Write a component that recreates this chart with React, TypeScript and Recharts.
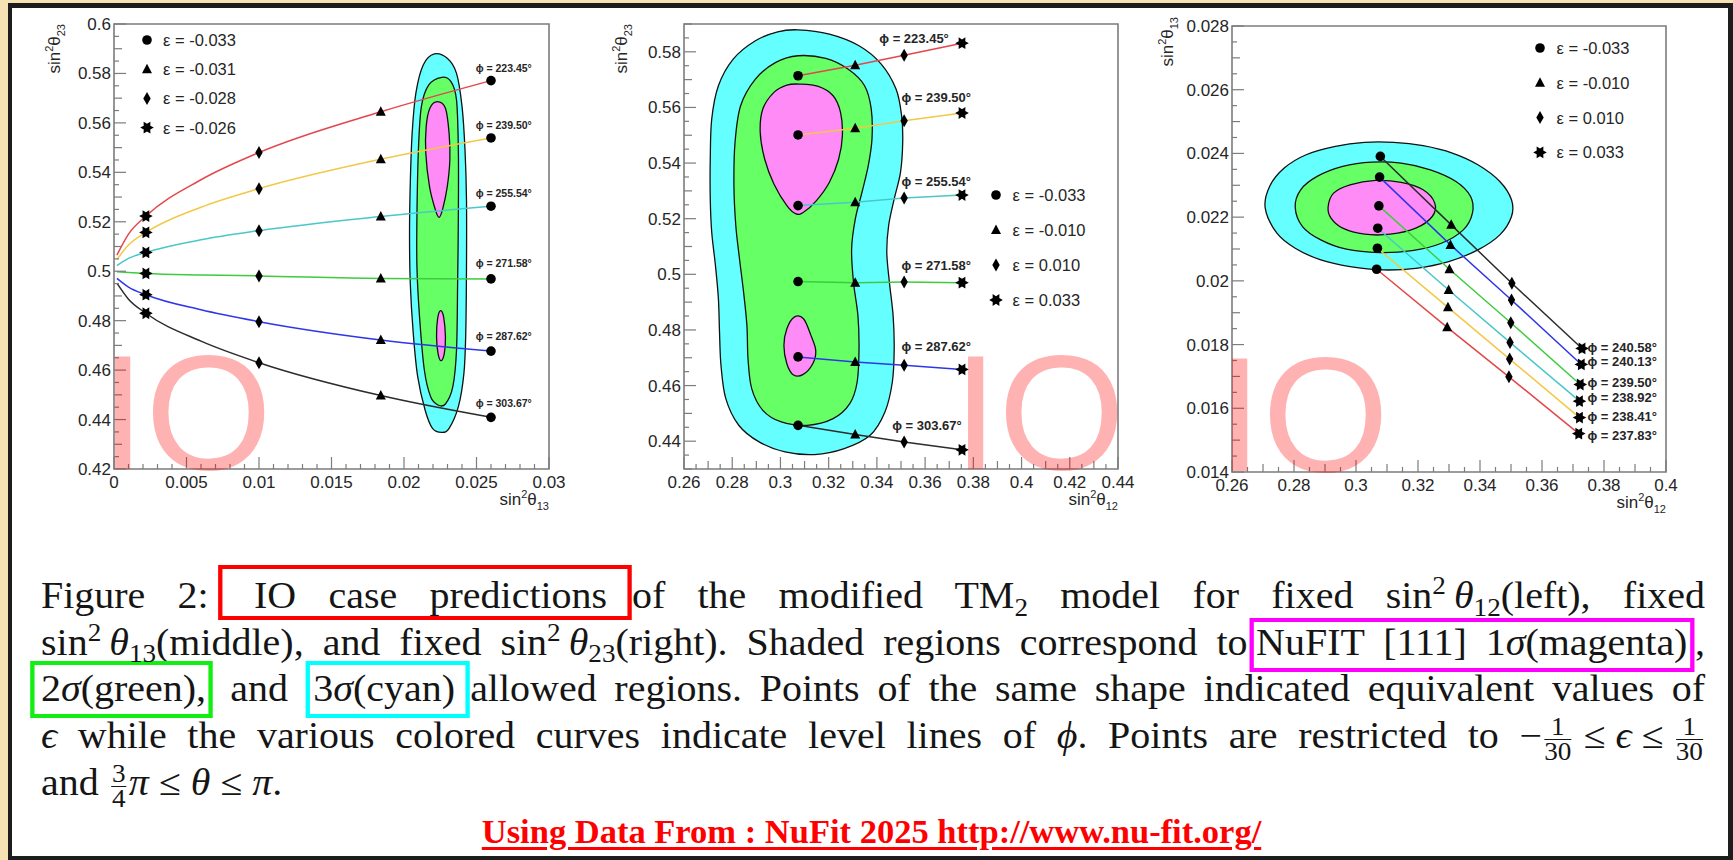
import React from "react";
import { ScatterChart, Scatter, XAxis, YAxis, ReferenceArea, Legend, Curve } from "recharts";

type Pt = [number, number];
type Kind = "circle" | "triangle" | "diamond" | "star";

const AXIS = "#7c7c7c";
const INK = "#262626";
const SANS = '"Liberation Sans", Arial, Helvetica, sans-serif';
const SERIF = '"Liberation Serif", "Times New Roman", serif';

// colours of the phi level lines and of the NuFIT regions
const RED = "#e3474b";
const YELLOW = "#f2c846";
const CYAN = "#4ac7c9";
const GREEN = "#3fcb3f";
const BLUE = "#2f36e8";
const BLACK = "#2c2c2c";
const CYAN_FILL = "#66ffff";
const GREEN_FILL = "#66ff66";
const MAGENTA_FILL = "#ff8cf6";

const markerKinds: Kind[] = ["circle", "triangle", "diamond", "star"];

// ---------------- left panel: fixed sin^2 theta12 ----------------
const leftPhi = ["223.45", "239.50", "255.54", "271.58", "287.62", "303.67"];
const leftEps = ["-0.033", "-0.031", "-0.028", "-0.026"];
const leftX = [0.0002, 0.001, 0.0022, 0.006, 0.01, 0.0184, 0.026];
const leftRed = [0.5065, 0.515, 0.5223, 0.537, 0.548, 0.5645, 0.5771];
const leftYellow = [0.5047, 0.5106, 0.5157, 0.5259, 0.5334, 0.5453, 0.5539];
const leftCyan = [0.5023, 0.5052, 0.5076, 0.5127, 0.5164, 0.5221, 0.5263];
const leftGreen = [0.4998, 0.4995, 0.4991, 0.4985, 0.4981, 0.4971, 0.4969];
const leftBlue = [0.4971, 0.4936, 0.4905, 0.4844, 0.4796, 0.4722, 0.4677];
const leftBlack = [0.4952, 0.4887, 0.483, 0.4717, 0.463, 0.4497, 0.4409];
const leftLabelX = 0.02494;
const leftLabelY = [0.58046, 0.55752, 0.5299, 0.50158, 0.47217, 0.44494];
const leftXMajor = [0, 0.005, 0.01, 0.015, 0.02, 0.025, 0.03];
const leftYMajor = [0.42, 0.44, 0.46, 0.48, 0.5, 0.52, 0.54, 0.56, 0.58, 0.6];

const leftCyanRegion: Pt[] = [
  [0.022091, 0.58787], [0.022984, 0.58611], [0.023622, 0.58004], [0.024004, 0.56656], [0.024208, 0.54903],
  [0.02431, 0.5288], [0.02431, 0.50184], [0.024259, 0.47487], [0.024132, 0.45869], [0.023749, 0.4452],
  [0.023111, 0.43644], [0.022602, 0.43482], [0.021964, 0.43644], [0.021454, 0.44386], [0.020944, 0.45734],
  [0.020638, 0.47487], [0.020433, 0.49509], [0.020382, 0.51532], [0.020433, 0.53555], [0.020561, 0.55577],
  [0.020816, 0.57195], [0.021326, 0.58342],
];
const leftGreenRegion: Pt[] = [
  [0.022602, 0.57843], [0.02324, 0.57667], [0.023622, 0.56926], [0.023749, 0.54903], [0.023749, 0.52206],
  [0.023698, 0.49509], [0.023622, 0.46813], [0.023367, 0.45329], [0.022857, 0.44628], [0.022347, 0.44588],
  [0.021837, 0.44925], [0.021403, 0.46004], [0.021071, 0.48161], [0.020892, 0.50184], [0.020892, 0.52206],
  [0.020994, 0.54903], [0.021198, 0.56656], [0.021709, 0.57533],
];
const leftMagentaTop: Pt[] = [
  [0.022296, 0.56858], [0.022857, 0.56589], [0.023111, 0.55577], [0.023162, 0.54498], [0.022984, 0.5342],
  [0.022678, 0.52544], [0.022423, 0.52179], [0.022168, 0.52476], [0.02176, 0.5342], [0.021505, 0.54768],
  [0.02153, 0.55847], [0.021785, 0.56589],
];
const leftMagentaLow: Pt[] = [
  [0.022525, 0.48404], [0.022729, 0.48161], [0.022857, 0.47352], [0.02278, 0.46678], [0.022551, 0.46381],
  [0.022347, 0.46678], [0.022245, 0.47352], [0.022321, 0.48093],
];

// ---------------- middle panel: fixed sin^2 theta13 ----------------
const midPhi = ["223.45", "239.50", "255.54", "271.58", "287.62", "303.67"];
const midEps = ["-0.033", "-0.010", "0.010", "0.033"];
const midX = [0.3073, 0.331, 0.3513, 0.3753];
const midRed = [0.5714, 0.5752, 0.5788, 0.5831];
const midYellow = [0.5501, 0.5525, 0.5552, 0.558];
const midCyan = [0.5247, 0.5259, 0.5274, 0.5285];
const midGreen = [0.4974, 0.497, 0.4972, 0.497];
const midBlue = [0.4703, 0.4685, 0.4673, 0.4658];
const midBlack = [0.4457, 0.4424, 0.4397, 0.4369];
const midLabelX = [0.341, 0.35021, 0.35021, 0.35021, 0.35021, 0.34635];
const midLabelY = [0.58299, 0.56188, 0.53168, 0.50173, 0.47235, 0.4442];
const midXMajor = [0.26, 0.28, 0.3, 0.32, 0.34, 0.36, 0.38, 0.4, 0.42, 0.44];
const midYMajor = [0.44, 0.46, 0.48, 0.5, 0.52, 0.54, 0.56, 0.58];

const midCyanRegion: Pt[] = [
  [0.30727, 0.58791], [0.32031, 0.58636], [0.33259, 0.58217], [0.3418, 0.57558], [0.34794, 0.56661],
  [0.35025, 0.55703], [0.35071, 0.54746], [0.34979, 0.53668], [0.34718, 0.52711], [0.34487, 0.51753],
  [0.34411, 0.50796], [0.34518, 0.49719], [0.34672, 0.48522], [0.34718, 0.47325], [0.34641, 0.46128],
  [0.34334, 0.45051], [0.3372, 0.44213], [0.32646, 0.43734], [0.31418, 0.43519], [0.3019, 0.43615],
  [0.29115, 0.43974], [0.28271, 0.44573], [0.27734, 0.4553], [0.27534, 0.46727], [0.27473, 0.47924],
  [0.27427, 0.4912], [0.27304, 0.50317], [0.2715, 0.51514], [0.27089, 0.52711], [0.27089, 0.54148],
  [0.2715, 0.55584], [0.27427, 0.56781], [0.28041, 0.57738], [0.28962, 0.58396], [0.29883, 0.58719],
];
const midGreenRegion: Pt[] = [
  [0.30727, 0.57858], [0.31878, 0.57762], [0.32799, 0.57379], [0.33489, 0.56781], [0.33766, 0.55942],
  [0.33797, 0.54866], [0.33643, 0.53908], [0.33382, 0.5295], [0.33106, 0.51992], [0.32952, 0.50916],
  [0.33029, 0.49719], [0.33213, 0.48522], [0.33259, 0.47325], [0.33182, 0.46128], [0.32876, 0.4535],
  [0.32185, 0.44811], [0.31111, 0.44572], [0.30036, 0.44691], [0.29269, 0.4511], [0.28808, 0.45888],
  [0.28655, 0.46966], [0.28609, 0.48163], [0.28471, 0.4936], [0.28302, 0.50557], [0.28148, 0.51753],
  [0.28071, 0.5319], [0.28117, 0.54746], [0.28348, 0.56062], [0.28962, 0.5702], [0.29806, 0.57618],
];
const midMagentaTop: Pt[] = [
  [0.30804, 0.5684], [0.31571, 0.56757], [0.32185, 0.56421], [0.32492, 0.55823], [0.32569, 0.54985],
  [0.32415, 0.54147], [0.32031, 0.5331], [0.31494, 0.52651], [0.30957, 0.52232], [0.3065, 0.52172],
  [0.30266, 0.52472], [0.29729, 0.5325], [0.29345, 0.54147], [0.29161, 0.55105], [0.29269, 0.55942],
  [0.29729, 0.56541], [0.30266, 0.56804],
];
const midMagentaLow: Pt[] = [
  [0.30573, 0.48462], [0.30957, 0.48402], [0.31264, 0.47804], [0.31464, 0.47265], [0.31341, 0.46786],
  [0.30926, 0.46391], [0.30527, 0.46391], [0.30266, 0.46786], [0.30144, 0.47444], [0.30266, 0.48043],
];

// ---------------- right panel: fixed sin^2 theta23 ----------------
const rightPhi = ["240.58", "240.13", "239.50", "238.92", "238.41", "237.83"];
const rightEps = ["-0.033", "-0.010", "0.010", "0.033"];
const rightBlackX = [0.30785, 0.33072, 0.35028, 0.37291];
const rightBlackY = [0.023906, 0.021758, 0.019923, 0.017879];
const rightBlueX = [0.30761, 0.33048, 0.35016, 0.37268];
const rightBlueY = [0.023257, 0.021129, 0.019399, 0.017376];
const rightGreenX = [0.30738, 0.33013, 0.34993, 0.37233];
const rightGreenY = [0.022355, 0.020364, 0.018686, 0.016747];
const rightCyanX = [0.30702, 0.32989, 0.34969, 0.37209];
const rightCyanY = [0.021653, 0.019714, 0.018068, 0.016223];
const rightYellowX = [0.30691, 0.32966, 0.34957, 0.37209];
const rightYellowY = [0.021024, 0.019169, 0.017544, 0.015709];
const rightRedX = [0.30667, 0.32942, 0.34934, 0.37186];
const rightRedY = [0.020364, 0.01854, 0.016988, 0.015206];
const rightLabelX = 0.37468;
const rightLabelY = [0.017773, 0.017321, 0.016675, 0.016191, 0.015595, 0.01502];
const rightXMajor = [0.26, 0.28, 0.3, 0.32, 0.34, 0.36, 0.38, 0.4];
const rightYMajor = [0.014, 0.016, 0.018, 0.02, 0.022, 0.024, 0.026, 0.028];

const rightCyanRegion: Pt[] = [
  [0.27072, 0.022282], [0.27213, 0.022963], [0.27685, 0.02354], [0.28392, 0.023959], [0.29335, 0.024221],
  [0.30278, 0.024347], [0.31221, 0.024347], [0.32164, 0.024242], [0.33107, 0.024011], [0.33932, 0.023644],
  [0.34639, 0.02312], [0.35016, 0.022544], [0.35016, 0.02202], [0.34639, 0.021443], [0.33932, 0.020972],
  [0.32989, 0.020605], [0.31928, 0.020395], [0.30868, 0.020343], [0.29807, 0.020447], [0.28864, 0.020657],
  [0.28039, 0.021024], [0.27449, 0.021496],
];
const rightGreenRegion: Pt[] = [
  [0.28039, 0.022313], [0.28215, 0.022858], [0.28746, 0.023278], [0.29571, 0.023592], [0.30514, 0.023728],
  [0.31457, 0.023697], [0.324, 0.023487], [0.33225, 0.02312], [0.33697, 0.022649], [0.33756, 0.022124],
  [0.33461, 0.0216], [0.32754, 0.021181], [0.31811, 0.020951], [0.3075, 0.020888], [0.29689, 0.020993],
  [0.28864, 0.021286], [0.28274, 0.021705],
];
const rightMagentaRegion: Pt[] = [
  [0.291, 0.022313], [0.29276, 0.022753], [0.29807, 0.023015], [0.30632, 0.023152], [0.31457, 0.023089],
  [0.32164, 0.022858], [0.32541, 0.022439], [0.32459, 0.02202], [0.31928, 0.021653], [0.31103, 0.021464],
  [0.30278, 0.021464], [0.29571, 0.021653], [0.29194, 0.021967],
];

// ---------------- helpers ----------------
const zip = (xs: number[], ys: number[]): Pt[] => xs.map((x, i) => [x, ys[i]]);
const toData = (pts: Pt[]) => pts.map(([x, y]) => ({ x, y }));

// tick positions for the ROOT-style minor ticks
function steps(lo: number, hi: number, step: number) {
  const out: number[] = [];
  const n = Math.round((hi - lo) / step);
  for (let i = 0; i <= n; i++) out.push(+(lo + i * step).toFixed(7));
  return out;
}
function onStep(v: number, step?: number) {
  if (!step) return false;
  const r = v / step;
  return Math.abs(r - Math.round(r)) < 1e-4;
}

function starPath(cx: number, cy: number, R: number, r: number) {
  let d = "";
  for (let k = 0; k < 12; k++) {
    const a = (Math.PI / 6) * k;
    const rad = k % 2 === 0 ? R : r;
    d += (k ? "L" : "M") + (cx + rad * Math.cos(a)).toFixed(2) + "," + (cy + rad * Math.sin(a)).toFixed(2);
  }
  return d + "Z";
}

function Marker({ kind, cx, cy }: { kind: Kind; cx: number; cy: number }) {
  if (kind === "circle") return <circle cx={cx} cy={cy} r={4.8} fill="#000" />;
  if (kind === "triangle")
    return <path d={`M${cx},${cy - 5.5}L${cx + 5},${cy + 4}L${cx - 5},${cy + 4}Z`} fill="#000" />;
  if (kind === "diamond")
    return <path d={`M${cx},${cy - 6.5}L${cx + 3.7},${cy}L${cx},${cy + 6.5}L${cx - 3.7},${cy}Z`} fill="#000" />;
  return <path d={starPath(cx, cy, 6.8, 3.8)} fill="#000" />;
}

// smooth closed outline through the contour points (pixel points come from the chart scales)
function closedSmooth(pts: { x: number; y: number }[]) {
  const n = pts.length;
  if (!n) return "";
  let d = `M${pts[0].x},${pts[0].y}`;
  for (let i = 0; i < n; i++) {
    const p0 = pts[(i - 1 + n) % n];
    const p1 = pts[i];
    const p2 = pts[(i + 1) % n];
    const p3 = pts[(i + 2) % n];
    const c1x = p1.x + (p2.x - p0.x) / 6;
    const c1y = p1.y + (p2.y - p0.y) / 6;
    const c2x = p2.x - (p3.x - p1.x) / 6;
    const c2y = p2.y - (p3.y - p1.y) / 6;
    d += `C${c1x},${c1y} ${c2x},${c2y} ${p2.x},${p2.y}`;
  }
  return d + "Z";
}

function xTick(major: number[], mid?: number) {
  return (p: any) => {
    const v = Number(p.payload.value);
    const m = major.find((t) => Math.abs(t - v) < 1e-9);
    const len = m !== undefined ? 12 : onStep(v, mid) ? 8 : 5;
    return (
      <g>
        <line x1={p.x} x2={p.x} y1={p.y} y2={p.y - len} stroke={AXIS} strokeWidth={1.2} />
        {m !== undefined && (
          <text x={p.x} y={p.y + 19} textAnchor="middle" fontSize={17} fill={INK}>
            {String(m)}
          </text>
        )}
      </g>
    );
  };
}

function yTick(major: number[], mid?: number) {
  return (p: any) => {
    const v = Number(p.payload.value);
    const m = major.find((t) => Math.abs(t - v) < 1e-9);
    const len = m !== undefined ? 12 : onStep(v, mid) ? 8 : 5;
    return (
      <g>
        <line x1={p.x} x2={p.x + len} y1={p.y} y2={p.y} stroke={AXIS} strokeWidth={1.2} />
        {m !== undefined && (
          <text x={p.x - 3} y={p.y + 6} textAnchor="end" fontSize={17} fill={INK}>
            {String(m)}
          </text>
        )}
      </g>
    );
  };
}

function SinTitle({ sub }: { sub: string }) {
  return (
    <>
      sin
      <tspan fontSize={11} dy={-7}>2</tspan>
      <tspan dy={7}>θ</tspan>
      <tspan fontSize={11} dy={5}>{sub}</tspan>
    </>
  );
}

const xTitle = (sub: string) => (props: any) => {
  const vb = props.viewBox || {};
  return (
    <text x={vb.x + vb.width} y={vb.y + 36} textAnchor="end" fontSize={17} fill={INK}>
      <SinTitle sub={sub} />
    </text>
  );
};

const yTitle = (sub: string, dx: number, dy: number) => (props: any) => {
  const vb = props.viewBox || {};
  const x = vb.x + vb.width + dx;
  const y = vb.y + dy;
  return (
    <text x={x} y={y} transform={`rotate(-90 ${x} ${y})`} textAnchor="end" fontSize={17} fill={INK}>
      <SinTitle sub={sub} />
    </text>
  );
};

function LegendBox({ eps, gap, textDx }: { eps: string[]; gap: number; textDx: number }) {
  return (
    <svg width={150} height={gap * 3 + 24} style={{ display: "block", fontFamily: SANS }}>
      {markerKinds.map((k, i) => (
        <g key={k}>
          <Marker kind={k} cx={9} cy={10 + i * gap} />
          <text x={9 + textDx} y={10 + i * gap + 6} fontSize={16.5} fill={INK}>
            ε = {eps[i]}
          </text>
        </g>
      ))}
    </svg>
  );
}

interface Series {
  pts: Pt[];
  color: string;
}
interface PanelSpec {
  box: { left: number; top: number; width: number; height: number };
  margin: { top: number; right: number; bottom: number; left: number };
  xDomain: [number, number];
  yDomain: [number, number];
  xTicks: number[];
  xMajor: number[];
  xMid?: number;
  yTicks: number[];
  yMajor: number[];
  yMid?: number;
  xSub: string;
  ySub: string;
  yTitleDx: number;
  yTitleDy: number;
  contours: Series[];
  curves: Series[];
  smooth: boolean;
  markers: { kind: Kind; pts: Pt[] }[];
  labels: { pt: Pt; text: string }[];
  labelSize: number;
  legendEps: string[];
  legendLeft: number;
  legendTop: number;
  legendGap: number;
  legendTextDx: number;
}

const hidden = () => <g />;
const X_AXIS_H = 40;
const Y_AXIS_W = 60;

function Panel({ s }: { s: PanelSpec }) {
  return (
    <div style={{ position: "absolute", left: s.box.left, top: s.box.top, width: s.box.width, height: s.box.height }}>
      <ScatterChart width={s.box.width} height={s.box.height} margin={s.margin} style={{ fontFamily: SANS }}>
        <XAxis
          type="number"
          dataKey="x"
          domain={s.xDomain}
          allowDataOverflow
          ticks={s.xTicks}
          interval={0}
          height={X_AXIS_H}
          tickSize={0}
          tickMargin={0}
          axisLine={false}
          tickLine={false}
          tick={xTick(s.xMajor, s.xMid)}
          label={xTitle(s.xSub)}
        />
        <YAxis
          type="number"
          dataKey="y"
          domain={s.yDomain}
          allowDataOverflow
          ticks={s.yTicks}
          interval={0}
          width={Y_AXIS_W}
          tickSize={0}
          tickMargin={0}
          axisLine={false}
          tickLine={false}
          tick={yTick(s.yMajor, s.yMid)}
          label={yTitle(s.ySub, s.yTitleDx, s.yTitleDy)}
        />
        <ReferenceArea
          x1={s.xDomain[0]}
          x2={s.xDomain[1]}
          y1={s.yDomain[0]}
          y2={s.yDomain[1]}
          fill="none"
          stroke={AXIS}
          strokeWidth={1.6}
          ifOverflow="visible"
        />
        {s.contours.map((c, i) => (
          <Scatter
            key={`reg${i}`}
            data={toData(c.pts)}
            isAnimationActive={false}
            shape={hidden}
            legendType="none"
            line={(lp: any) => <path d={closedSmooth(lp.points || [])} fill={c.color} stroke="#111" strokeWidth={1.3} />}
          />
        ))}
        {s.curves.map((c, i) => (
          <Scatter
            key={`cur${i}`}
            data={toData(c.pts)}
            isAnimationActive={false}
            shape={hidden}
            legendType="none"
            line={(lp: any) => (
              <Curve points={lp.points} type={s.smooth ? "monotoneX" : "linear"} stroke={c.color} strokeWidth={1.5} fill="none" />
            )}
          />
        ))}
        {s.markers.map((m) => (
          <Scatter
            key={m.kind}
            data={toData(m.pts)}
            isAnimationActive={false}
            legendType="none"
            shape={(p: any) => <Marker kind={m.kind} cx={p.cx} cy={p.cy} />}
          />
        ))}
        <Scatter
          data={s.labels.map((l) => ({ x: l.pt[0], y: l.pt[1], text: l.text }))}
          isAnimationActive={false}
          legendType="none"
          shape={(p: any) => (
            <text x={p.cx} y={p.cy} fontSize={s.labelSize} fontWeight="bold" fill={INK}>
              {`ϕ = ${(p.payload && p.payload.text) || p.text}°`}
            </text>
          )}
        />
        <Legend
          layout="vertical"
          align="center"
          verticalAlign="middle"
          wrapperStyle={{ left: s.legendLeft, top: s.legendTop, width: 150, height: s.legendGap * 3 + 24 }}
          content={() => <LegendBox eps={s.legendEps} gap={s.legendGap} textDx={s.legendTextDx} />}
        />
      </ScatterChart>
    </div>
  );
}

// ---------------- panel specs ----------------
const leftCurves = [leftRed, leftYellow, leftCyan, leftGreen, leftBlue, leftBlack];
const lineColours = [RED, YELLOW, CYAN, GREEN, BLUE, BLACK];
// which column of leftX carries each marker: circle, triangle, diamond, star
const leftMarkerCol = [6, 5, 4, 2];

const leftSpec: PanelSpec = {
  box: { left: 0, top: 0, width: 600, height: 520 },
  margin: { top: 24, right: 51, bottom: 51 - X_AXIS_H, left: 114 - Y_AXIS_W },
  xDomain: [0, 0.03],
  yDomain: [0.42, 0.6],
  xTicks: steps(0, 0.03, 0.001),
  xMajor: leftXMajor,
  yTicks: steps(0.42, 0.6, 0.005),
  yMajor: leftYMajor,
  yMid: 0.01,
  xSub: "13",
  ySub: "23",
  yTitleDx: -54,
  yTitleDy: 0,
  contours: [
    { pts: leftCyanRegion, color: CYAN_FILL },
    { pts: leftGreenRegion, color: GREEN_FILL },
    { pts: leftMagentaTop, color: MAGENTA_FILL },
    { pts: leftMagentaLow, color: MAGENTA_FILL },
  ],
  curves: leftCurves.map((ys, i) => ({ pts: zip(leftX, ys), color: lineColours[i] })),
  smooth: true,
  markers: markerKinds.map((k, j) => ({
    kind: k,
    pts: leftCurves.map((ys) => [leftX[leftMarkerCol[j]], ys[leftMarkerCol[j]]] as Pt),
  })),
  labels: leftPhi.map((t, i) => ({ pt: [leftLabelX, leftLabelY[i]] as Pt, text: t })),
  labelSize: 10.5,
  legendEps: leftEps,
  legendLeft: 137.7,
  legendTop: 30,
  legendGap: 29.2,
  legendTextDx: 16,
};

const midCurves = [midRed, midYellow, midCyan, midGreen, midBlue, midBlack];
const midSpec: PanelSpec = {
  box: { left: 600, top: 0, width: 560, height: 520 },
  margin: { top: 24, right: 42, bottom: 51 - X_AXIS_H, left: 84 - Y_AXIS_W },
  xDomain: [0.26, 0.44],
  yDomain: [0.43, 0.59],
  xTicks: steps(0.26, 0.44, 0.005),
  xMajor: midXMajor,
  xMid: 0.01,
  yTicks: steps(0.43, 0.59, 0.005),
  yMajor: midYMajor,
  yMid: 0.01,
  xSub: "12",
  ySub: "23",
  yTitleDx: -57,
  yTitleDy: 0,
  contours: [
    { pts: midCyanRegion, color: CYAN_FILL },
    { pts: midGreenRegion, color: GREEN_FILL },
    { pts: midMagentaTop, color: MAGENTA_FILL },
    { pts: midMagentaLow, color: MAGENTA_FILL },
  ],
  curves: midCurves.map((ys, i) => ({ pts: zip(midX, ys), color: lineColours[i] })),
  smooth: false,
  markers: markerKinds.map((k, j) => ({ kind: k, pts: midCurves.map((ys) => [midX[j], ys[j]] as Pt) })),
  labels: midPhi.map((t, i) => ({ pt: [midLabelX[i], midLabelY[i]] as Pt, text: t })),
  labelSize: 13,
  legendEps: midEps,
  legendLeft: 386.8,
  legendTop: 185,
  legendGap: 35,
  legendTextDx: 16.6,
};

const rightXs = [rightBlackX, rightBlueX, rightGreenX, rightCyanX, rightYellowX, rightRedX];
const rightYs = [rightBlackY, rightBlueY, rightGreenY, rightCyanY, rightYellowY, rightRedY];
const rightColours = [BLACK, BLUE, GREEN, CYAN, YELLOW, RED];
const rightSpec: PanelSpec = {
  box: { left: 1148, top: 0, width: 572, height: 520 },
  margin: { top: 26, right: 54, bottom: 48 - X_AXIS_H, left: 84 - Y_AXIS_W },
  xDomain: [0.26, 0.4],
  yDomain: [0.014, 0.028],
  xTicks: steps(0.26, 0.4, 0.005),
  xMajor: rightXMajor,
  xMid: 0.01,
  yTicks: steps(0.014, 0.028, 0.0005),
  yMajor: rightYMajor,
  yMid: 0.001,
  xSub: "12",
  ySub: "13",
  yTitleDx: -59,
  yTitleDy: -9,
  contours: [
    { pts: rightCyanRegion, color: CYAN_FILL },
    { pts: rightGreenRegion, color: GREEN_FILL },
    { pts: rightMagentaRegion, color: MAGENTA_FILL },
  ],
  curves: rightXs.map((xs, i) => ({ pts: zip(xs, rightYs[i]), color: rightColours[i] })),
  smooth: false,
  markers: markerKinds.map((k, j) => ({ kind: k, pts: rightXs.map((xs, i) => [xs[j], rightYs[i][j]] as Pt) })),
  labels: rightPhi.map((t, i) => ({ pt: [rightLabelX, rightLabelY[i]] as Pt, text: t })),
  labelSize: 13,
  legendEps: rightEps,
  legendLeft: 383,
  legendTop: 38.3,
  legendGap: 34.8,
  legendTextDx: 16.5,
};

// ---------------- caption ----------------
const Sup = ({ children }: { children: React.ReactNode }) => (
  <span style={{ fontSize: "0.68em", position: "relative", top: "-0.55em" }}>{children}</span>
);
const Sub = ({ children }: { children: React.ReactNode }) => (
  <span style={{ fontSize: "0.68em", position: "relative", top: "0.3em" }}>{children}</span>
);
function Frac({ n, d }: { n: string; d: string }) {
  return (
    <span
      style={{
        display: "inline-block",
        verticalAlign: "middle",
        fontSize: "0.68em",
        lineHeight: "0.95",
        textAlign: "center",
        textAlignLast: "center",
        margin: "0 2px",
      }}
    >
      <span style={{ display: "block", borderBottom: "1.5px solid #151515", padding: "0 1px" }}>{n}</span>
      <span style={{ display: "block" }}>{d}</span>
    </span>
  );
}
function Box({ c, pad, ml = 0, children }: { c: string; pad: string; ml?: number; children: React.ReactNode }) {
  return <span style={{ border: `4px solid ${c}`, padding: pad, marginLeft: ml }}>{children}</span>;
}

const lineBase: React.CSSProperties = {
  height: 46.7,
  lineHeight: "46.7px",
  textAlign: "justify",
  textAlignLast: "justify",
};
const CAPTION_STRETCH = 1.08;

function Caption() {
  return (
    <div
      style={{
        position: "absolute",
        left: 41,
        top: 573,
        width: 1664 / CAPTION_STRETCH,
        transform: `scaleX(${CAPTION_STRETCH})`,
        transformOrigin: "0 0",
        fontFamily: SERIF,
        fontSize: 37,
        color: "#151515",
      }}
    >
      <div style={lineBase}>
        Figure 2:
        <Box c="#ff0000" pad="6px 19px 0 29px" ml={9}>
          IO case predictions
        </Box>
        of the modified TM<Sub>2</Sub> model for fixed sin<Sup>2</Sup>{"\u2009"}
        <i>θ</i>
        <Sub>12</Sub>(left), fixed
      </div>
      <div style={lineBase}>
        sin<Sup>2</Sup>{"\u2009"}
        <i>θ</i>
        <Sub>13</Sub>(middle), and fixed sin<Sup>2</Sup>{"\u2009"}
        <i>θ</i>
        <Sub>23</Sub>(right). Shaded regions correspond to
        <Box c="#ff00ff" pad="0 3px 5px 2px" ml={2}>
          NuFIT [111] 1<i>σ</i>(magenta)
        </Box>
        ,
      </div>
      <div style={lineBase}>
        <Box c="#11ee11" pad="3px 2px 5px 6px" ml={-10}>
          2<i>σ</i>(green),
        </Box>{" "}
        and{" "}
        <Box c="#00ffff" pad="3px 10px 5px 3px">
          3<i>σ</i>(cyan)
        </Box>
        allowed regions. Points of the same shape indicated equivalent values of
      </div>
      <div style={lineBase}>
        <i>ϵ</i> while the various colored curves indicate level lines of <i>ϕ</i>. Points are restricted to −
        <Frac n="1" d="30" />
        {"\u2005≤\u2005"}
        <i>ϵ</i>
        {"\u2005≤\u2005"}
        <Frac n="1" d="30" />
      </div>
      <div style={{ ...lineBase, textAlign: "left", textAlignLast: "left" }}>
        and <Frac n="3" d="4" />
        <i>π</i>
        {"\u2005≤\u2005"}
        <i>θ</i>
        {"\u2005≤\u2005"}
        <i>π</i>.
      </div>
    </div>
  );
}

export default function App() {
  return (
    <div
      style={{
        position: "absolute",
        left: 0,
        top: 0,
        width: 1733,
        height: 860,
        background: "#f6e2b3",
        overflow: "hidden",
      }}
    >
      <div
        style={{
          position: "absolute",
          left: 8,
          top: 3,
          width: 1725,
          height: 857,
          boxSizing: "border-box",
          borderLeft: "4px solid #1d1d1d",
          borderTop: "5px solid #1d1d1d",
          borderRight: "5px solid #1d1d1d",
          borderBottom: "4px solid #1d1d1d",
          background: "#fff",
        }}
      />
      <Panel s={leftSpec} />
      <Panel s={midSpec} />
      <Panel s={rightSpec} />
      <svg
        width={1733}
        height={860}
        style={{ position: "absolute", left: 0, top: 0, pointerEvents: "none" }}
        fontFamily={SANS}
      >
        <text x={100} y={469} fontSize={163} fill="rgba(255,0,0,0.3)">IO</text>
        <text x={953} y={469} fontSize={163} fill="rgba(255,0,0,0.3)">IO</text>
        <text x={1217} y={471} fontSize={163} fill="rgba(255,0,0,0.3)">IO</text>
      </svg>
      <Caption />
      <div
        style={{
          position: "absolute",
          left: 0,
          top: 811,
          width: 1743,
          textAlign: "center",
          fontFamily: SERIF,
          fontWeight: "bold",
          fontSize: 34.5,
          lineHeight: "40px",
          color: "#ff0000",
          textDecoration: "underline",
          textDecorationThickness: "3px",
          textUnderlineOffset: "4px",
        }}
      >
        Using Data From : NuFit 2025 http://www.nu-fit.org/
      </div>
    </div>
  );
}
